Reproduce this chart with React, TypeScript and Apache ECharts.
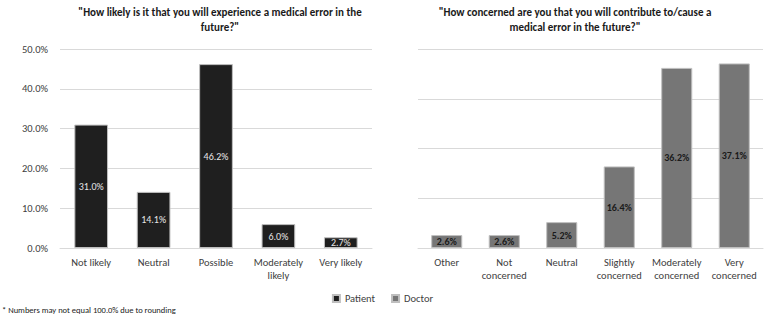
import React, { useEffect, useRef } from "react";
import * as echarts from "echarts";

const patientCategories = ["Not likely", "Neutral", "Possible", "Moderately\nlikely", "Very likely"];
const patientValues = [31.0, 14.1, 46.2, 6.0, 2.7];

const doctorCategories = ["Other", "Not\nconcerned", "Neutral", "Slightly\nconcerned", "Moderately\nconcerned", "Very\nconcerned"];
const doctorValues = [2.6, 2.6, 5.2, 16.4, 36.2, 37.1];

const patientTitle = "\"How likely is it that you will experience a medical error in the\nfuture?\"";
const doctorTitle = "\"How concerned are you that you will contribute to/cause a\nmedical error in the future?\"";
const footnote = "* Numbers may not equal 100.0% due to rounding";

const FONT = "Carlito, Calibri, Lato, sans-serif";

export default function App() {
  const ref = useRef<HTMLDivElement>(null);

  useEffect(() => {
    if (!ref.current) return;
    const chart = echarts.init(ref.current, undefined, { renderer: "svg" });
    const axisLabel = { color: "#404040", fontSize: 10.5, fontFamily: FONT, lineHeight: 13, interval: 0 };
    const splitLine = { show: true, lineStyle: { color: "#d9d9d9", width: 1 } };
    chart.setOption({
      animation: false,
      textStyle: { fontFamily: FONT },
      title: [
        {
          text: patientTitle,
          left: 215,
          top: 0,
          textAlign: "center",
          textStyle: { fontSize: 11, fontWeight: "bold", color: "#1a1a1a", lineHeight: 15, fontFamily: FONT },
        },
        {
          text: doctorTitle,
          left: 570,
          top: 0,
          textAlign: "center",
          textStyle: { fontSize: 11, fontWeight: "bold", color: "#1a1a1a", lineHeight: 15, fontFamily: FONT },
        },
      ],
      legend: {
        data: ["Patient", "Doctor"],
        left: "center",
        top: 288,
        itemWidth: 7,
        itemHeight: 7,
        itemGap: 16,
        icon: "rect",
        textStyle: { color: "#404040", fontSize: 10.5, fontFamily: FONT },
      },
      grid: [
        { left: 60, right: 393, top: 49, bottom: 76 },
        { left: 418, right: 2, top: 49, bottom: 76 },
      ],
      xAxis: [
        {
          type: "category",
          gridIndex: 0,
          data: patientCategories,
          axisTick: { show: false },
          axisLine: { lineStyle: { color: "#d9d9d9" } },
          axisLabel,
        },
        {
          type: "category",
          gridIndex: 1,
          data: doctorCategories,
          axisTick: { show: false },
          axisLine: { lineStyle: { color: "#d9d9d9" } },
          axisLabel,
        },
      ],
      yAxis: [
        {
          type: "value",
          gridIndex: 0,
          min: 0,
          max: 50,
          interval: 10,
          axisLine: { show: false },
          axisTick: { show: false },
          splitLine,
          axisLabel: {
            color: "#404040",
            fontSize: 10.5,
            fontFamily: FONT,
            margin: 12,
            formatter: (v: number) => `${v.toFixed(1)}%`,
          },
        },
        {
          type: "value",
          gridIndex: 1,
          min: 0,
          max: 40,
          interval: 10,
          axisLine: { show: false },
          axisTick: { show: false },
          splitLine,
          axisLabel: { show: false },
        },
      ],
      series: [
        {
          name: "Patient",
          type: "bar",
          xAxisIndex: 0,
          yAxisIndex: 0,
          data: patientValues,
          barWidth: "54%",
          itemStyle: { color: "#1f1f1f", borderColor: "#bfbfbf", borderWidth: 1 },
          label: {
            show: true,
            position: "inside",
            color: "#e6e6e6",
            fontSize: 10,
            fontFamily: FONT,
            formatter: (p: any) => `${Number(p.value).toFixed(1)}%`,
          },
        },
        {
          name: "Doctor",
          type: "bar",
          xAxisIndex: 1,
          yAxisIndex: 1,
          data: doctorValues,
          barWidth: "54%",
          itemStyle: { color: "#767676", borderColor: "#bfbfbf", borderWidth: 1 },
          label: {
            show: true,
            position: "inside",
            color: "#1a1a1a",
            fontSize: 10,
            fontWeight: "bold",
            fontFamily: FONT,
            formatter: (p: any) => `${Number(p.value).toFixed(1)}%`,
          },
        },
      ],
      graphic: [
        {
          type: "text",
          left: 2,
          top: 305,
          style: { text: footnote, fill: "#1a1a1a", fontSize: 8.5, fontFamily: FONT },
        },
      ],
    });
    return () => chart.dispose();
  }, []);

  return (
    <div
      ref={ref}
      style={{ position: "fixed", left: 0, top: 0, width: 765, height: 324, background: "#fff" }}
    />
  );
}
